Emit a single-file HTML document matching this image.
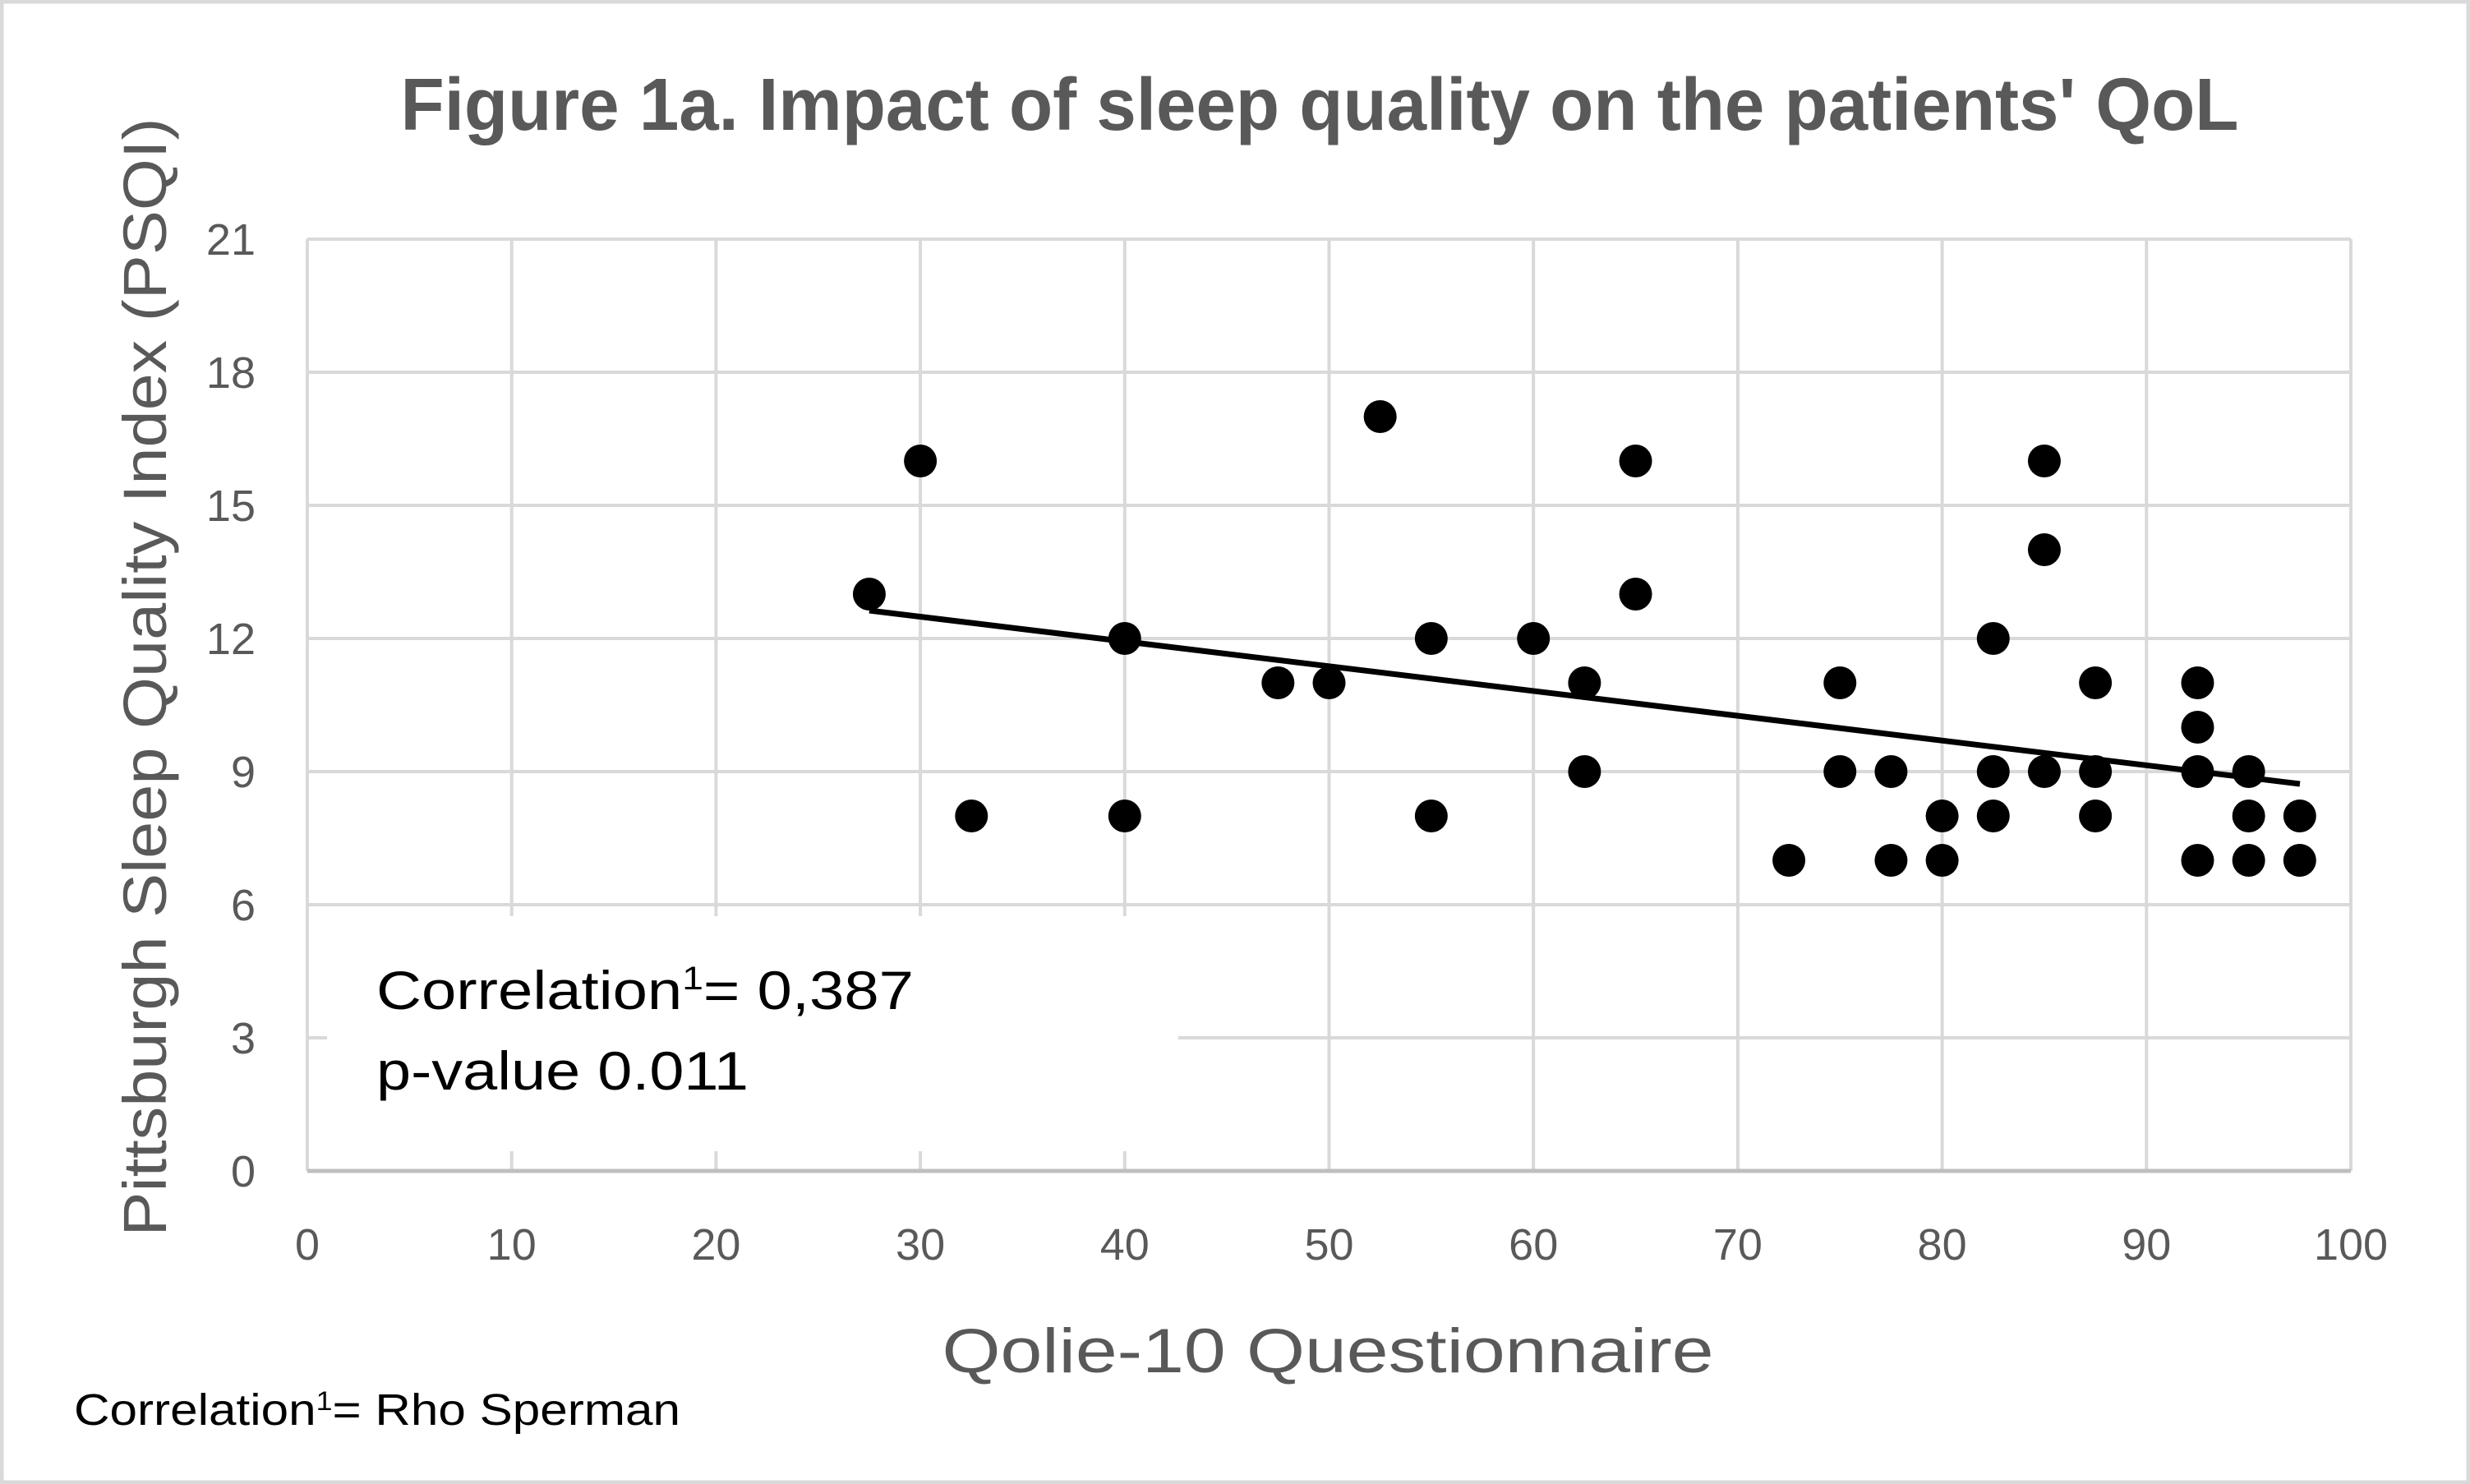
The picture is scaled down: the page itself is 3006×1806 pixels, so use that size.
<!DOCTYPE html>
<html><head><meta charset="utf-8"><style>
html,body{margin:0;padding:0;background:#fff;}
svg{display:block;}
</style></head><body>
<svg id="s" width="3006" height="1806" xmlns="http://www.w3.org/2000/svg" font-family="Liberation Sans, sans-serif">
<rect x="2" y="2" width="3002" height="1802" fill="#fff" stroke="#d9d9d9" stroke-width="5"/>
<g id="grid" stroke="#d9d9d9" stroke-width="4"></g>
<rect x="398" y="1115" width="1036" height="286" fill="#fff"/>
<line x1="374" y1="1425" x2="2861" y2="1425" stroke="#bfbfbf" stroke-width="5"/>
<g id="pts" fill="#000"></g>
<line x1="1058" y1="743" x2="2799" y2="954" stroke="#000" stroke-width="7"/>
<g id="lbl" fill="#595959" font-size="54"></g>
<text x="1606" y="158" text-anchor="middle" font-size="90" font-weight="bold" fill="#595959" textLength="2237" lengthAdjust="spacingAndGlyphs">Figure 1a. Impact of sleep quality on the patients' QoL</text>
<text transform="translate(202,824) rotate(-90)" text-anchor="middle" font-size="74" fill="#595959" textLength="1361" lengthAdjust="spacingAndGlyphs">Pittsburgh Sleep Quality Index (PSQI)</text>
<text x="1616" y="1670" text-anchor="middle" font-size="76" fill="#595959" textLength="939" lengthAdjust="spacingAndGlyphs">Qolie-10 Questionnaire</text>
<text x="458" y="1228" font-size="66" fill="#000" textLength="654" lengthAdjust="spacingAndGlyphs">Correlation<tspan font-size="40" dy="-24">1</tspan><tspan dy="24">= 0,387</tspan></text>
<text x="458" y="1326" font-size="66" fill="#000" textLength="453" lengthAdjust="spacingAndGlyphs">p-value 0.011</text>
<text x="90" y="1734" font-size="54" fill="#000" textLength="738" lengthAdjust="spacingAndGlyphs">Correlation<tspan font-size="32" dy="-18">1</tspan><tspan dy="18">= Rho Sperman</tspan></text>
</svg>
<script>
var X=function(v){return 374+(2861-374)*v/100;},Y=function(v){return 1425-(1425-291)*v/21;};
var g=document.getElementById('grid'),l=document.getElementById('lbl'),p=document.getElementById('pts'),ns='http://www.w3.org/2000/svg';
function el(par,t,a,txt){var e=document.createElementNS(ns,t);for(var k in a)e.setAttribute(k,a[k]);if(txt!==undefined)e.textContent=txt;par.appendChild(e);}
for(var i=0;i<=10;i++){el(g,'line',{x1:X(i*10),y1:291,x2:X(i*10),y2:1425});el(l,'text',{x:X(i*10),y:1533,'text-anchor':'middle'},String(i*10));}
for(var j=0;j<=7;j++){el(g,'line',{x1:374,y1:Y(j*3),x2:2861,y2:Y(j*3)});el(l,'text',{x:311,y:Y(j*3)+19,'text-anchor':'end'},String(j*3));}
var d=[[27.5,13],[30,16],[32.5,8],[40,12],[40,8],[47.5,11],[50,11],[52.5,17],[55,12],[55,8],[60,12],[62.5,11],[62.5,9],[65,16],[65,13],[72.5,7],[75,11],[75,9],[77.5,9],[77.5,7],[80,8],[80,7],[82.5,12],[82.5,9],[82.5,8],[85,16],[85,14],[85,9],[87.5,11],[87.5,9],[87.5,8],[92.5,11],[92.5,10],[92.5,9],[92.5,7],[95,9],[95,8],[95,7],[97.5,8],[97.5,7]];
d.forEach(function(q){el(p,'circle',{cx:X(q[0]),cy:Y(q[1]),r:20});});
</script>
</body></html>
